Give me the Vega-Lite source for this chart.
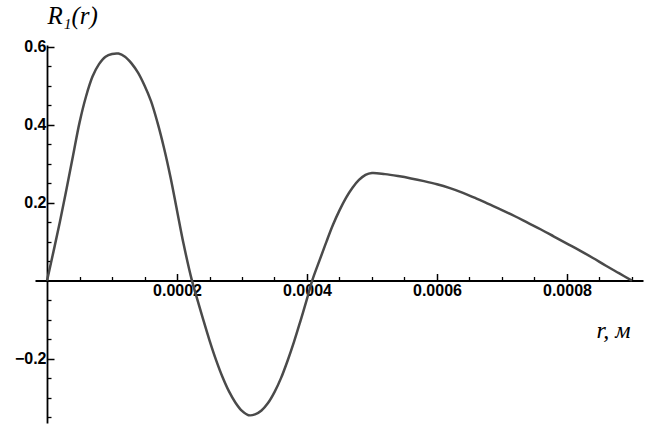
{
  "$schema": "https://vega.github.io/schema/vega-lite/v6.json",
  "width": 608,
  "height": 378,
  "autosize": {"type": "none"},
  "padding": {"left": 35, "top": 45, "right": 6, "bottom": 6},
  "background": "white",
  "config": {"view": {"stroke": null}},
  "data": {
    "values": [
      {"r": 0, "v": 0},
      {"r": 0.00001, "v": 0.075},
      {"r": 0.00002, "v": 0.152},
      {"r": 0.00003, "v": 0.235},
      {"r": 0.00004, "v": 0.32},
      {"r": 0.00005, "v": 0.405},
      {"r": 0.00006, "v": 0.472},
      {"r": 0.00007, "v": 0.523},
      {"r": 0.00008, "v": 0.555},
      {"r": 0.00009, "v": 0.574},
      {"r": 0.0001, "v": 0.581},
      {"r": 0.00011, "v": 0.582},
      {"r": 0.00012, "v": 0.574},
      {"r": 0.00013, "v": 0.557},
      {"r": 0.00014, "v": 0.533},
      {"r": 0.00015, "v": 0.5},
      {"r": 0.00016, "v": 0.46},
      {"r": 0.00017, "v": 0.405},
      {"r": 0.00018, "v": 0.34},
      {"r": 0.00019, "v": 0.265},
      {"r": 0.0002, "v": 0.18},
      {"r": 0.00021, "v": 0.095},
      {"r": 0.000223, "v": 0},
      {"r": 0.00023, "v": -0.041},
      {"r": 0.00024, "v": -0.098},
      {"r": 0.00025, "v": -0.153},
      {"r": 0.00026, "v": -0.203},
      {"r": 0.00027, "v": -0.247},
      {"r": 0.00028, "v": -0.284},
      {"r": 0.00029, "v": -0.313},
      {"r": 0.0003, "v": -0.334},
      {"r": 0.00031, "v": -0.345},
      {"r": 0.00032, "v": -0.343},
      {"r": 0.00033, "v": -0.333},
      {"r": 0.00034, "v": -0.314},
      {"r": 0.00035, "v": -0.286},
      {"r": 0.00036, "v": -0.25},
      {"r": 0.00037, "v": -0.206},
      {"r": 0.00038, "v": -0.157},
      {"r": 0.00039, "v": -0.103},
      {"r": 0.0004, "v": -0.047},
      {"r": 0.000408, "v": 0},
      {"r": 0.00042, "v": 0.055},
      {"r": 0.00043, "v": 0.1},
      {"r": 0.00044, "v": 0.143},
      {"r": 0.00045, "v": 0.18},
      {"r": 0.00046, "v": 0.212},
      {"r": 0.00047, "v": 0.238},
      {"r": 0.00048, "v": 0.258},
      {"r": 0.00049, "v": 0.271},
      {"r": 0.0005, "v": 0.276},
      {"r": 0.00052, "v": 0.273},
      {"r": 0.00054, "v": 0.268},
      {"r": 0.00056, "v": 0.262},
      {"r": 0.00058, "v": 0.255},
      {"r": 0.0006, "v": 0.247},
      {"r": 0.00062, "v": 0.237},
      {"r": 0.00064, "v": 0.225},
      {"r": 0.00066, "v": 0.211},
      {"r": 0.00068, "v": 0.196},
      {"r": 0.0007, "v": 0.181},
      {"r": 0.00072, "v": 0.165},
      {"r": 0.00074, "v": 0.148},
      {"r": 0.00076, "v": 0.131},
      {"r": 0.00078, "v": 0.113},
      {"r": 0.0008, "v": 0.095},
      {"r": 0.00082, "v": 0.077},
      {"r": 0.00084, "v": 0.058},
      {"r": 0.00086, "v": 0.038},
      {"r": 0.00088, "v": 0.019},
      {"r": 0.0009, "v": 0}
    ]
  },
  "layer": [
    {
      "mark": {"type": "line", "color": "#4a4a4a", "strokeWidth": 2.5, "interpolate": "catmull-rom"},
      "encoding": {
        "x": {
          "field": "r", "type": "quantitative",
          "scale": {"domain": [-0.0000185, 0.000917], "nice": false, "zero": false},
          "axis": {
            "orient": "bottom", "offset": -142.5,
            "values": [0.0002, 0.0004, 0.0006, 0.0008], "format": ".4f",
            "grid": false, "tickSize": -7, "tickWidth": 1.5, "tickColor": "black",
            "domainColor": "black", "domainWidth": 1.8,
            "labelFont": "Liberation Sans", "labelFontWeight": "bold", "labelFontSize": 16,
            "labelColor": "black", "labelPadding": 9, "labelFlush": false, "labelBaseline": "top",
            "title": "r, м", "titleFont": "Liberation Serif", "titleFontStyle": "italic",
            "titleFontWeight": "normal", "titleFontSize": 24, "titleColor": "black",
            "titleAnchor": null, "titleAlign": "right", "titleX": 595, "titleY": 57,
            "titleBaseline": "alphabetic"
          }
        },
        "y": {
          "field": "v", "type": "quantitative",
          "scale": {"domain": [-0.365, 0.604], "nice": false, "zero": false},
          "axis": {
            "orient": "left", "offset": -12,
            "values": [-0.2, 0.2, 0.4, 0.6], "format": ".1f",
            "grid": false, "tickSize": -7, "tickWidth": 1.5, "tickColor": "black",
            "domainColor": "black", "domainWidth": 1.8,
            "labelFont": "Liberation Sans", "labelFontWeight": "bold", "labelFontSize": 16,
            "labelColor": "black", "labelPadding": 8,
            "title": "R₁(r)", "titleFont": "Liberation Serif", "titleFontStyle": "italic",
            "titleFontWeight": "normal", "titleFontSize": 25, "titleColor": "black",
            "titleAngle": 0, "titleAnchor": null, "titleAlign": "left", "titleX": 0, "titleY": -22,
            "titleBaseline": "alphabetic"
          }
        }
      }
    },
    {
      "mark": {"type": "line", "opacity": 0},
      "encoding": {
        "x": {
          "field": "r", "type": "quantitative",
          "scale": {"domain": [-0.0000185, 0.000917], "nice": false, "zero": false},
          "axis": {
            "orient": "bottom", "offset": -142.5,
            "values": [0.00005, 0.0001, 0.00015, 0.00025, 0.0003, 0.00035, 0.00045, 0.0005, 0.00055, 0.00065, 0.0007, 0.00075, 0.00085, 0.0009],
            "grid": false, "domain": false, "labels": false, "title": null,
            "tickSize": -4, "tickWidth": 1.3, "tickColor": "black"
          }
        },
        "y": {
          "field": "v", "type": "quantitative",
          "scale": {"domain": [-0.365, 0.604], "nice": false, "zero": false},
          "axis": {
            "orient": "left", "offset": -12,
            "values": [-0.35, -0.3, -0.25, -0.15, -0.1, -0.05, 0.05, 0.1, 0.15, 0.25, 0.3, 0.35, 0.45, 0.5, 0.55],
            "grid": false, "domain": false, "labels": false, "title": null,
            "tickSize": -4, "tickWidth": 1.3, "tickColor": "black"
          }
        }
      }
    }
  ],
  "resolve": {"scale": {"x": "independent", "y": "independent"}, "axis": {"x": "independent", "y": "independent"}}
}
